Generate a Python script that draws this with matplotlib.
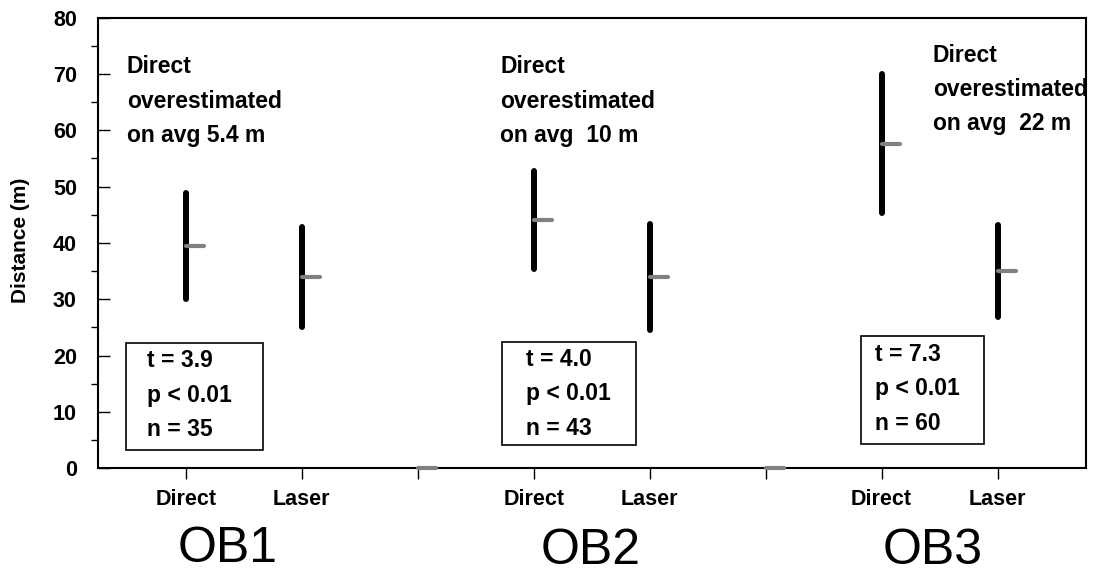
import numpy as np
import matplotlib
matplotlib.use("Agg")
import matplotlib.pyplot as plt
from matplotlib.ticker import MultipleLocator
from matplotlib.patches import Rectangle

plt.rcParams['font.family'] = ['Liberation Sans', 'DejaVu Sans']

# data
labels = ["Direct", "Laser", "", "Direct", "Laser", "", "Direct", "Laser"]
high = np.array([48.8, 42.8, 0, 52.7, 43.4, 0, 70.0, 43.2])
low = np.array([30.0, 25.1, 0, 35.4, 24.6, 0, 45.3, 26.8])
mean = np.array([39.5, 34.0, 0, 44.0, 34.0, 0, 57.6, 35.0])

groups = ["OB1", "OB2", "OB3"]
overest = ["5.4", " 10", " 22"]
t_vals = ["3.9", "4.0", "7.3"]
n_vals = [35, 43, 60]

x = np.arange(1, len(labels) + 1)

fig = plt.figure(figsize=(11.2, 5.75), dpi=100)
ax = fig.add_axes([0.0872, 0.1856, 0.8822, 0.7837])

rng = high > low
ax.vlines(x[rng], low[rng], high[rng], color="black", lw=4.3, capstyle="round", zorder=3)
ax.hlines(mean, x, x + 0.16, color="#808080", lw=3, capstyle="round", clip_on=False, zorder=4)

ax.set_xlim(0.24, 8.76)
ax.set_ylim(0, 80)
ax.set_xticks(x)
ax.set_xticklabels(labels, fontsize=15.5, fontweight="bold")
ax.yaxis.set_major_locator(MultipleLocator(10))
ax.yaxis.set_minor_locator(MultipleLocator(5))
ax.tick_params(axis="y", which="major", direction="in", length=8.6, width=1, labelsize=15.5, pad=15)
ax.tick_params(axis="y", which="minor", direction="out", length=5, width=1)
ax.tick_params(axis="x", which="major", direction="out", length=8, width=1, pad=7)
for lab in ax.get_yticklabels():
    lab.set_fontweight("bold")
for sp in ax.spines.values():
    sp.set_linewidth(1.5)
ax.set_ylabel("Distance (m)", fontsize=15, fontweight="bold")
ax.yaxis.set_label_coords(-0.068, 0.505)

# annotations
ann_xy = [(0.49, 73.3), (3.71, 73.3), (7.44, 75.4)]
for (ax_, ay), v in zip(ann_xy, overest):
    ax.text(ax_, ay, "Direct\noverestimated\non avg %s m" % v, fontsize=16.5, fontweight="bold",
            ha="left", va="top", linespacing=1.62)

# stats boxes
box_ext = [(0.481, 1.668, 3.25, 22.3), (3.728, 4.878, 4.14, 22.5), (6.82, 7.883, 4.31, 23.4)]
txt_xy = [(0.662, 13.0), (3.932, 13.2), (6.941, 14.1)]
for (x0, x1, y0, y1), (tx, ty), t, n in zip(box_ext, txt_xy, t_vals, n_vals):
    ax.add_patch(Rectangle((x0, y0), x1 - x0, y1 - y0, fc="white", ec="black", lw=1.2, zorder=2))
    ax.text(tx, ty, "t = %s\np < 0.01\nn = %d" % (t, n), fontsize=16.5, fontweight="bold",
            ha="left", va="center", linespacing=1.62, zorder=3)

grp_xy = [(228 / 1120, 1 - 562 / 575), (591 / 1120, 1 - 564 / 575), (933 / 1120, 1 - 564 / 575)]
for (gx, gy), g in zip(grp_xy, groups):
    fig.text(gx, gy, g, fontsize=36, ha="center", va="baseline")

fig.savefig("out.png", dpi=100)
